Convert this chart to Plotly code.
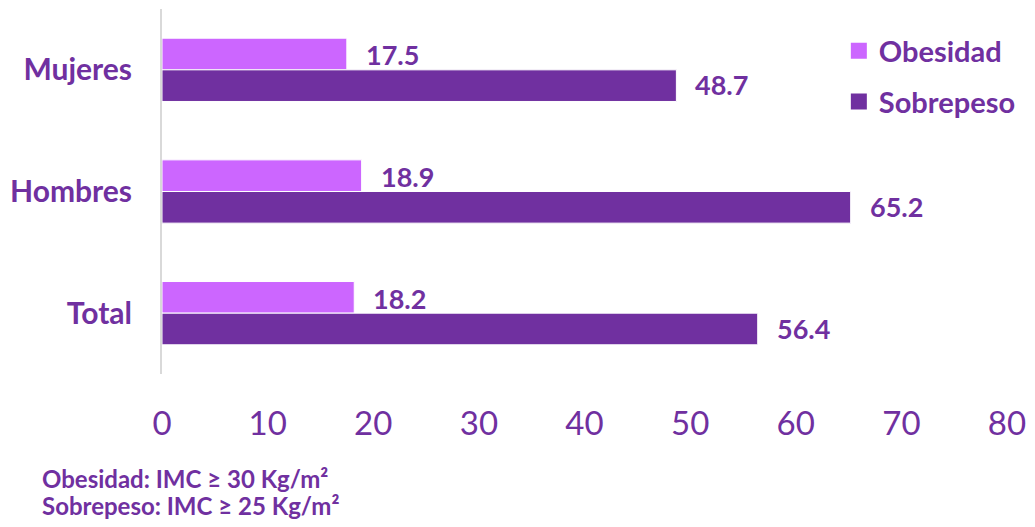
import plotly.graph_objects as go

categories = ["Mujeres", "Hombres", "Total"]
obesidad = [17.5, 18.9, 18.2]
sobrepeso = [48.7, 65.2, 56.4]
x_ticks = [0, 10, 20, 30, 40, 50, 60, 70, 80]
notes = ["Obesidad: IMC \u2265 30 Kg/m\u00b2", "Sobrepeso: IMC \u2265 25 Kg/m\u00b2"]

PURPLE = "#7030A0"
LILAC = "#CC66FF"
FONT = "Lato"

fig = go.Figure()
fig.add_trace(go.Bar(
    y=categories, x=obesidad, orientation="h", name="Obesidad",
    marker=dict(color=LILAC, line=dict(color="white", width=1)),
    showlegend=False,
))
fig.add_trace(go.Bar(
    y=categories, x=sobrepeso, orientation="h", name="Sobrepeso",
    marker=dict(color=PURPLE, line=dict(color="white", width=1)),
    showlegend=False,
))
# legend swatches
for name, col, grp in (("Obesidad", LILAC, "a"), ("Sobrepeso", PURPLE, "b")):
    fig.add_trace(go.Scatter(
        x=[None], y=[None], mode="markers", name=name, legendgroup=grp,
        marker=dict(symbol="square", size=16, color=col),
    ))

annotations = []
for vals, shift in ((obesidad, 15), (sobrepeso, -15)):
    for c, v in zip(categories, vals):
        annotations.append(dict(
            x=v, y=c, xref="x", yref="y", text=f"{v:.1f}", showarrow=False,
            xanchor="left", yanchor="middle", xshift=17, yshift=shift,
            font=dict(family=FONT, size=27, color=PURPLE, weight="bold"),
        ))

for k, t in enumerate(notes):
    annotations.append(dict(
        x=-0.144, y=-0.285 - k * 0.075, xref="paper", yref="paper", text=t,
        showarrow=False, xanchor="left", yanchor="middle",
        font=dict(family=FONT, size=24, color=PURPLE, weight="bold"),
    ))

fig.update_layout(
    width=1035, height=527,
    margin=dict(l=162, r=24, t=9, b=153),
    paper_bgcolor="white", plot_bgcolor="white",
    barmode="group", bargap=0.48, bargroupgap=0,
    showlegend=True,
    legend=dict(
        x=0.801, y=0.955, xanchor="left", yanchor="top",
        font=dict(family=FONT, size=29, color=PURPLE, weight="bold"),
        tracegroupgap=10, bgcolor="rgba(0,0,0,0)", itemwidth=30,
    ),
    annotations=annotations,
    xaxis=dict(
        range=[0, 80], tickvals=x_ticks, showgrid=False, zeroline=False,
        showline=False, ticks="", ticklabelstandoff=27,
        tickfont=dict(family=FONT, size=33, color=PURPLE),
    ),
    yaxis=dict(
        autorange="reversed", showgrid=False, zeroline=False,
        showline=True, linecolor="#D9D9D9", linewidth=2, ticks="",
        ticklabelstandoff=22,
        tickfont=dict(family=FONT, size=30, color=PURPLE, weight="bold"),
    ),
)

fig.write_html(
    "out.html",
    config={"displayModeBar": False},
    post_script="document.body.style.margin='0';"
                "document.documentElement.style.overflow='hidden';"
                "document.body.style.overflow='hidden';",
)
